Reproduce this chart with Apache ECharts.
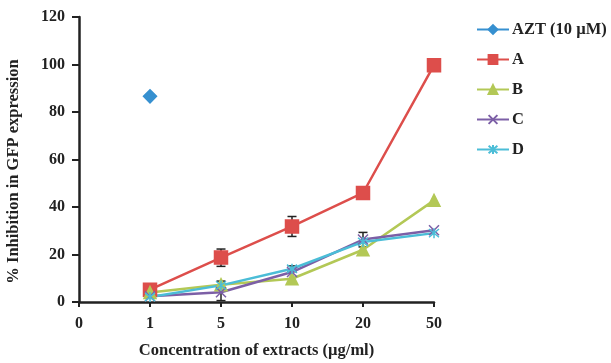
<!DOCTYPE html>
<html>
<head>
<meta charset="utf-8">
<script src="https://cdn.jsdelivr.net/npm/echarts@6/dist/echarts.min.js"></script>
<style>
  html, body { margin: 0; padding: 0; background: #fff; }
  #chart { width: 611px; height: 363px; }
</style>
</head>
<body>
<div id="chart"></div>
<script>
// concentrations on the x axis (ug/ml)
const categories = ["0", "1", "5", "10", "20", "50"];

// % inhibition, null where no point
const azt = [null, 86.6, null, null, null, null];
const seriesA = [null, 5.2, 18.7, 31.8, 45.9, 99.7];
const seriesB = [null, 4.0, 7.3, 9.8, 22.0, 42.8];
const seriesC = [null, 2.4, 4.1, 12.6, 26.3, 30.2];
const seriesD = [null, 2.1, 7.0, 14.0, 25.3, 29.0];

// error bars: [category index, low, high]
const errorBars = [
  [2, 15.0, 22.3],
  [3, 27.6, 36.0],
  [2, 0.6, 8.8],
  [3, 12.8, 15.2],
  [4, 23.2, 29.3]
];

const font = "'Liberation Serif', 'Times New Roman', serif";
const chart = echarts.init(document.getElementById("chart"));

const lineSeries = (name, data, color, symbol, size) => ({
  name: name,
  type: "line",
  data: data,
  symbol: symbol,
  symbolSize: size,
  lineStyle: { color: color, width: 2.5 },
  itemStyle: { color: color, borderColor: color, borderWidth: 1.5 },
  connectNulls: false,
  animation: false
});

const crossPath = "path://M0,0L10,10M10,0L0,10";
const starPath = "path://M0,0L10,10M10,0L0,10M5,-1L5,11";

chart.setOption({
  animation: false,
  grid: { left: 79, right: 177, top: 17, bottom: 61, outerBoundsMode: "none" },
  legend: {
    orient: "vertical",
    left: 471,
    top: 16,
    itemWidth: 32,
    itemHeight: 11,
    itemGap: 13,
    textStyle: { fontFamily: font, fontWeight: "bold", fontSize: 16.5, lineHeight: 16, color: "#222", padding: [0, 0, 0, -2] },
    data: ["AZT (10 \u00b5M)", "A", "B", "C", "D"]
  },
  xAxis: {
    type: "category",
    data: categories,
    boundaryGap: false,
    name: "Concentration of extracts (\u00b5g/ml)",
    nameLocation: "middle",
    nameGap: 40,
    nameTextStyle: { fontFamily: font, fontWeight: "bold", fontSize: 16.5, color: "#222" },
    axisLine: { lineStyle: { color: "#222", width: 2.5 } },
    axisTick: { alignWithLabel: true, length: 5, lineStyle: { color: "#222", width: 2 } },
    axisLabel: { fontFamily: font, fontWeight: "bold", fontSize: 16, color: "#222", margin: 14 },
    splitLine: { show: false }
  },
  yAxis: {
    type: "value",
    min: 0,
    max: 120,
    interval: 20,
    name: "% Inhibition in GFP expression",
    nameLocation: "middle",
    nameGap: 57,
    nameTextStyle: { fontFamily: font, fontWeight: "bold", fontSize: 16.5, color: "#222", padding: [0, 24, 0, 0] },
    axisLine: { show: true, lineStyle: { color: "#222", width: 2.5 } },
    axisTick: { show: true, length: 7, lineStyle: { color: "#222", width: 2 } },
    axisLabel: { fontFamily: font, fontWeight: "bold", fontSize: 16, color: "#222", margin: 14 },
    splitLine: { show: false }
  },
  series: [
    {
      type: "custom",
      name: "err",
      data: errorBars,
      z: 1,
      renderItem: function (params, api) {
        const x = api.value(0);
        const lo = api.coord([x, api.value(1)]);
        const hi = api.coord([x, api.value(2)]);
        const w = 4.5;
        const style = { stroke: "#222", lineWidth: 1.5 };
        return {
          type: "group",
          children: [
            { type: "line", shape: { x1: lo[0], y1: lo[1], x2: hi[0], y2: hi[1] }, style: style },
            { type: "line", shape: { x1: hi[0] - w, y1: hi[1], x2: hi[0] + w, y2: hi[1] }, style: style },
            { type: "line", shape: { x1: lo[0] - w, y1: lo[1], x2: lo[0] + w, y2: lo[1] }, style: style }
          ]
        };
      }
    },
    lineSeries("AZT (10 \u00b5M)", azt, "#3690d0", "diamond", 13),
    lineSeries("A", seriesA, "#dd4e4b", "rect", 13),
    lineSeries("B", seriesB, "#b3c856", "triangle", 12),
    lineSeries("C", seriesC, "#7c5fa6", crossPath, 10),
    lineSeries("D", seriesD, "#4bbdd7", starPath, 10)
  ]
});
</script>
</body>
</html>
